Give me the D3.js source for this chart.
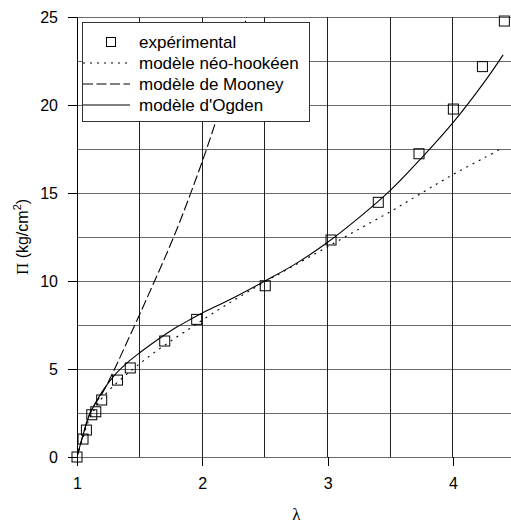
<!DOCTYPE html>
<html>
<head>
<meta charset="utf-8">
<script src="https://cdn.jsdelivr.net/npm/d3@7"></script>
<style>
  html, body { margin: 0; padding: 0; background: #fff; }
  svg { display: block; font-family: "Liberation Sans", Arial, sans-serif; }
</style>
</head>
<body>
<svg id="chart" width="511" height="524"></svg>
<script>
// ---- data ----
const lambdaTicks = [1, 2, 3, 4];
const piTicks = [0, 5, 10, 15, 20, 25];
const gridLambda = [1.5, 2, 2.5, 3, 3.5, 4];
const gridPi = [0, 2.5, 5, 7.5, 10, 12.5, 15, 17.5, 20, 22.5, 25];

const expLambda = [1.0, 1.048, 1.075, 1.118, 1.150, 1.197, 1.323, 1.425, 1.70, 1.955, 2.502, 3.027, 3.404, 3.729, 4.003, 4.235, 4.41];
const expPi     = [0, 1.02, 1.53, 2.40, 2.57, 3.24, 4.37, 5.06, 6.59, 7.82, 9.73, 12.33, 14.47, 17.23, 19.77, 22.18, 24.77];

const neoLambda = [1, 1.05, 1.1, 1.15, 1.2, 1.3, 1.4, 1.5, 1.6, 1.75, 1.9, 2.0, 2.25, 2.5, 2.75, 3.0, 3.25, 3.5, 3.75, 4.0, 4.25, 4.39];
const neoPi     = [0, 1.15, 2.2, 2.85, 3.35, 4.1, 4.72, 5.3, 5.85, 6.6, 7.3, 7.78, 8.9, 9.95, 10.95, 11.95, 12.95, 13.94, 15.0, 16.05, 17.0, 17.55];

const mooLambda = [1, 1.05, 1.1, 1.15, 1.2, 1.3, 1.4, 1.5, 1.6, 1.7, 1.8, 1.9, 2.0, 2.1, 2.2, 2.3, 2.354];
const mooPi     = [0, 1.3, 2.45, 3.1, 3.6, 5.0, 6.55, 8.1, 9.7, 11.3, 13.0, 14.85, 16.8, 18.9, 21.15, 23.6, 25];

const ogLambda = [1, 1.05, 1.1, 1.15, 1.2, 1.3, 1.4, 1.5, 1.6, 1.7, 1.8, 1.9, 2.0, 2.25, 2.5, 2.75, 3.0, 3.25, 3.5, 3.75, 4.0, 4.25, 4.4];
const ogPi     = [0, 1.3, 2.4, 3.1, 3.7, 4.65, 5.35, 5.92, 6.45, 6.95, 7.4, 7.8, 8.18, 9.05, 10.0, 11.0, 12.2, 13.6, 15.15, 17.0, 19.0, 21.3, 22.85];

const legendLabels = ["expérimental", "modèle néo-hookéen", "modèle de Mooney", "modèle d'Ogden"];

// ---- layout ----
const svg = d3.select("#chart");
const x = d3.scaleLinear().domain([1, 4.463]).range([77, 511]);
const y = d3.scaleLinear().domain([0, 25]).range([457, 17]);

svg.append("defs").append("clipPath").attr("id", "plotclip")
  .append("rect").attr("x", x(1)).attr("y", y(25)).attr("width", x(4.463) - x(1)).attr("height", y(0) - y(25));

// grid
svg.append("g").selectAll("line").data(gridPi).join("line")
  .attr("x1", x(1)).attr("x2", x(4.463))
  .attr("y1", d => y(d)).attr("y2", d => y(d))
  .attr("stroke", "#6a6a6a").attr("stroke-width", 1).attr("shape-rendering", "crispEdges");
svg.append("g").selectAll("line").data(gridLambda).join("line")
  .attr("x1", d => x(d)).attr("x2", d => x(d))
  .attr("y1", y(0)).attr("y2", y(25))
  .attr("stroke", "#222").attr("stroke-width", 1).attr("shape-rendering", "crispEdges");
// left axis line
svg.append("line").attr("x1", x(1)).attr("x2", x(1)).attr("y1", y(0)).attr("y2", y(25))
  .attr("stroke", "#000").attr("shape-rendering", "crispEdges");

// axes
const xAxis = svg.append("g").attr("transform", `translate(0,${y(0)})`)
  .call(d3.axisBottom(x).tickValues(lambdaTicks).tickFormat(d3.format("d")).tickSize(9).tickPadding(12));
const yAxis = svg.append("g").attr("transform", `translate(${x(1)},0)`)
  .call(d3.axisLeft(y).tickValues(piTicks).tickFormat(d3.format("d")).tickSize(9).tickPadding(10));
[xAxis, yAxis].forEach(a => {
  a.select(".domain").remove();
  a.selectAll(".tick line").attr("stroke", "#000").attr("shape-rendering", "crispEdges");
  a.selectAll(".tick text").attr("fill", "#000").attr("font-size", 16)
    .attr("font-family", "'Liberation Sans', Arial, sans-serif");
});

// axis titles
svg.append("text").attr("x", x(2.75)).attr("y", 520).attr("text-anchor", "middle")
  .attr("font-family", "'Liberation Serif', serif").attr("font-size", 17).text("λ");
const yl = svg.append("text").attr("transform", `translate(28,${y(12.5)}) rotate(-90)`)
  .attr("text-anchor", "middle").attr("font-size", 16);
yl.append("tspan").attr("font-family", "'Liberation Serif', serif").attr("font-size", 17).text("Π");
yl.append("tspan").text(" (kg/cm");
yl.append("tspan").attr("font-size", 11).attr("dy", -7).text("2");
yl.append("tspan").attr("dy", 7).text(")");

// curves
const plot = svg.append("g").attr("clip-path", "url(#plotclip)");
function drawCurve(lx, ly, dash) {
  const pts = lx.map((l, i) => [l, ly[i]]);
  plot.append("path").datum(pts)
    .attr("d", d3.line().x(d => x(d[0])).y(d => y(d[1])).curve(d3.curveCatmullRom.alpha(0.5)))
    .attr("fill", "none").attr("stroke", "#000").attr("stroke-width", 1.1)
    .attr("stroke-dasharray", dash);
}
drawCurve(neoLambda, neoPi, "2,5");
drawCurve(mooLambda, mooPi, "10,3.5");
drawCurve(ogLambda, ogPi, null);

// experimental squares
const sq = 10;
svg.append("g").selectAll("rect").data(expLambda.map((l, i) => [l, expPi[i]])).join("rect")
  .attr("x", d => x(d[0]) - sq / 2).attr("y", d => y(d[1]) - sq / 2)
  .attr("width", sq).attr("height", sq)
  .attr("fill", "none").attr("stroke", "#000").attr("stroke-width", 1);

// legend
const lg = svg.append("g");
lg.append("rect").attr("x", 82.5).attr("y", 22.5).attr("width", 227).attr("height", 99)
  .attr("fill", "#fff").attr("stroke", "#333").attr("stroke-width", 1);
const rowY = [42, 63, 84, 105];
lg.append("rect").attr("x", 106.5).attr("y", rowY[0] - 4.5).attr("width", 9).attr("height", 9)
  .attr("fill", "none").attr("stroke", "#000");
const dashes = ["2,5", "10,3.5", null];
dashes.forEach((ds, i) => {
  lg.append("line").attr("x1", 83).attr("x2", 130).attr("y1", rowY[i + 1]).attr("y2", rowY[i + 1])
    .attr("stroke", "#000").attr("stroke-width", 1.1).attr("stroke-dasharray", ds);
});
lg.selectAll("text.lbl").data(legendLabels).join("text").attr("class", "lbl")
  .attr("x", 139).attr("y", (d, i) => rowY[i] + 6).attr("font-size", 17).text(d => d);
</script>
</body>
</html>
